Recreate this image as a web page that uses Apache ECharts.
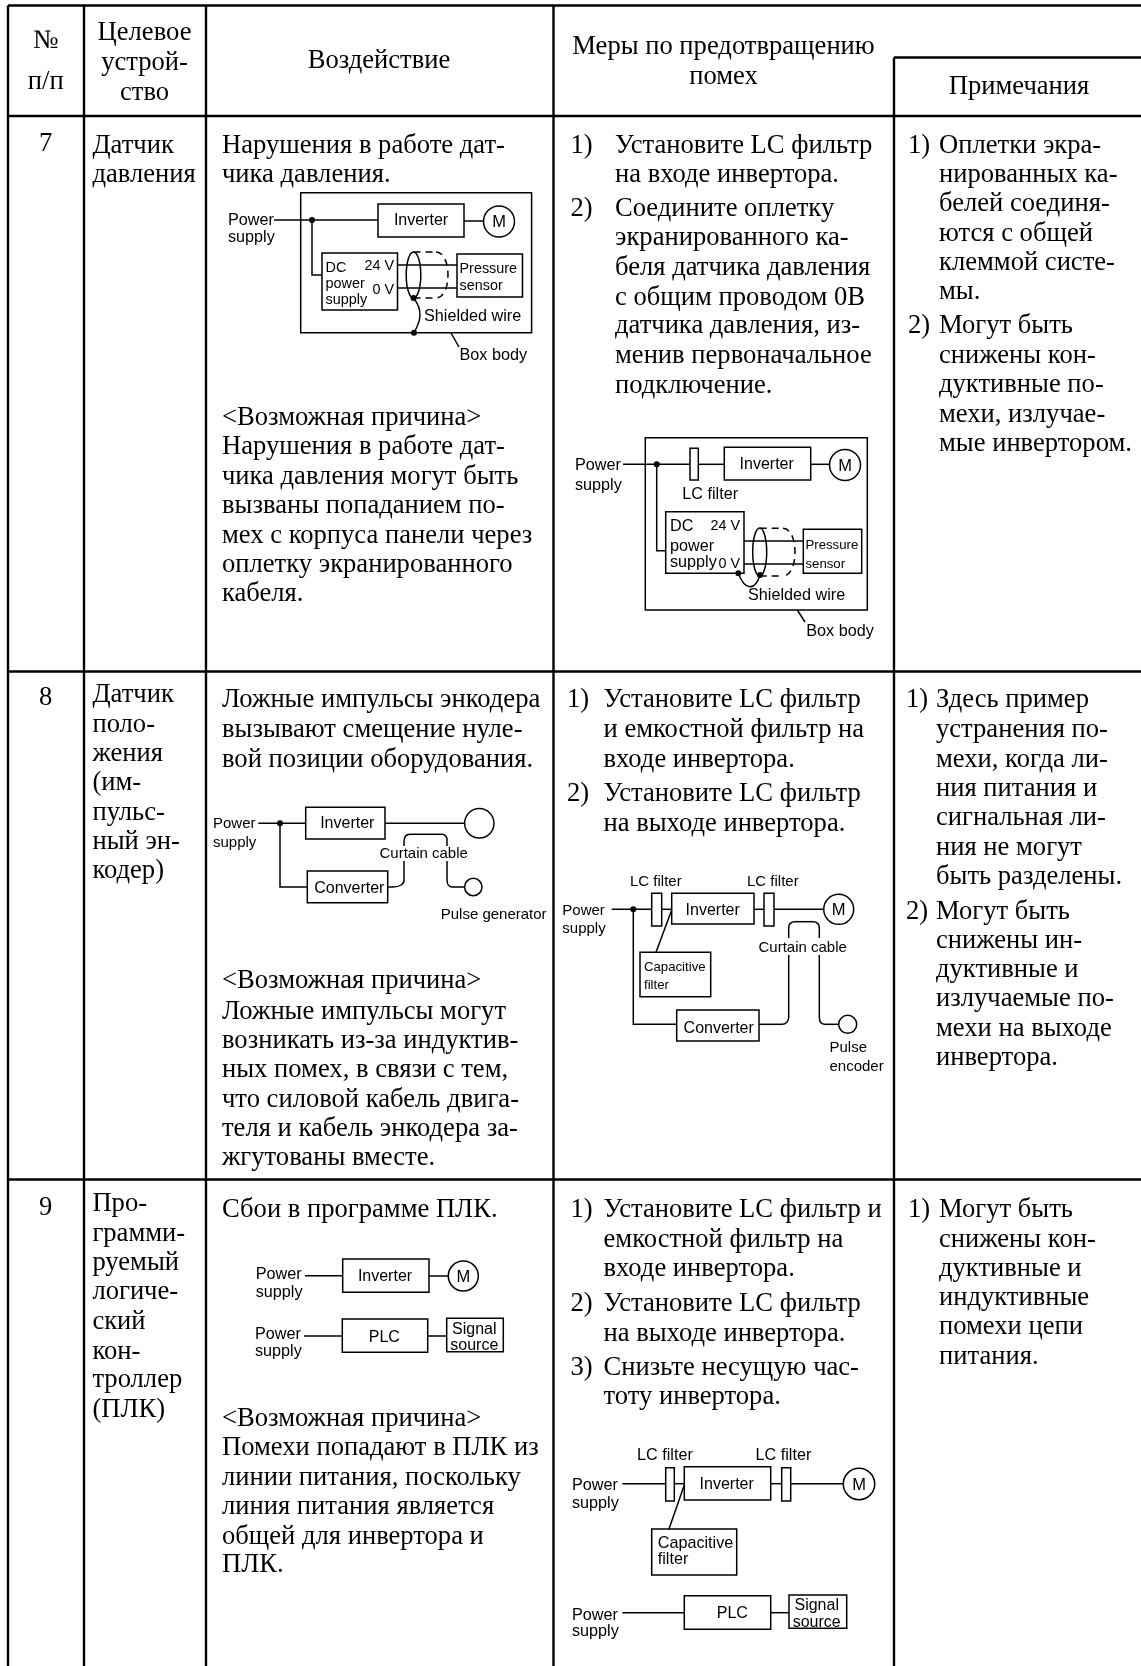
<!DOCTYPE html>
<html>
<head>
<meta charset="utf-8">
<style>html,body{margin:0;padding:0;background:#fff}#main{width:1141px;height:1666px}</style>
<script src="https://cdn.jsdelivr.net/npm/echarts@6/dist/echarts.min.js"></script>
</head>
<body>
<div id="main"></div>
<script>
// table rules, as x1,y1,x2,y2
const tableRules = [
  [8, 5.5, 1141, 5.5], [894, 57.5, 1141, 57.5], [8, 116, 1141, 116], [8, 671.5, 1141, 671.5], [8, 1179.5, 1141, 1179.5],
  [8, 5.5, 8, 1666], [84, 5.5, 84, 1666], [206, 5.5, 206, 1666], [553.5, 5.5, 553.5, 1666], [894, 57.5, 894, 1666]
];

// table text: x, y (line middle), text
const headerText = [
  [45.7, 40, '№'], [45.7, 81, 'п/п'],
  [144.5, 32, 'Целевое'], [144.5, 61.6, 'устрой-'], [144.5, 91.4, 'ство'],
  [379, 59.5, 'Воздействие'],
  [723.5, 45.7, 'Меры по предотвращению'], [723.5, 75.4, 'помех'],
  [1019, 86, 'Примечания'],
  [45.7, 142.4, '7'], [45.7, 697, '8'], [45.7, 1207, '9']
];
const deviceText = [
  [92.4, 144.5, 'Датчик'], [92.4, 174, 'давления'],
  [92.4, 693.7, 'Датчик'], [92.4, 723.5, 'поло-'], [92.4, 752.2, 'жения'], [92.4, 782, '(им-'],
  [92.4, 811.7, 'пульс-'], [92.4, 840.4, 'ный эн-'], [92.4, 870, 'кодер)'],
  [92.4, 1202.6, 'Про-'], [92.4, 1232.4, 'грамми-'], [92.4, 1262, 'руемый'], [92.4, 1290.8, 'логиче-'],
  [92.4, 1320.6, 'ский'], [92.4, 1350.3, 'кон-'], [92.4, 1379, 'троллер'], [92.4, 1408.8, '(ПЛК)']
];
const effectText = [
  [222, 144.5, 'Нарушения в работе дат-'], [222, 174, 'чика давления.'],
  [222, 416.5, '<Возможная причина>'], [222, 446, 'Нарушения в работе дат-'], [222, 476, 'чика давления могут быть'],
  [222, 504.6, 'вызваны попаданием по-'], [222, 534.4, 'мех с корпуса панели через'],
  [222, 564, 'оплетку экранированного'], [222, 592.8, 'кабеля.'],
  [222, 699, 'Ложные импульсы энкодера'], [222, 728.8, 'вызывают смещение нуле-'], [222, 758.5, 'вой позиции оборудования.'],
  [222, 979.5, '<Возможная причина>'], [222, 1010.3, 'Ложные импульсы могут'], [222, 1040, 'возникать из-за индуктив-'],
  [222, 1068.8, 'ных помех, в связи с тем,'], [222, 1098.5, 'что силовой кабель двига-'],
  [222, 1127.2, 'теля и кабель энкодера за-'], [222, 1157, 'жгутованы вместе.'],
  [222, 1209, 'Сбои в программе ПЛК.'],
  [222, 1417.2, '<Возможная причина>'], [222, 1447, 'Помехи попадают в ПЛК из'], [222, 1476.7, 'линии питания, поскольку'],
  [222, 1505.4, 'линия питания является'], [222, 1535.2, 'общей для инвертора и'], [222, 1563.8, 'ПЛК.']
];
const measureText = [
  [570.5, 144.5, '1)'], [615, 144.5, 'Установите LC фильтр'], [615, 174, 'на входе инвертора.'],
  [570.5, 208, '2)'], [615, 208, 'Соедините оплетку'], [615, 237, 'экранированного ка-'], [615, 266.7, 'беля датчика давления'],
  [615, 296.4, 'с общим проводом 0В'], [615, 325, 'датчика давления, из-'], [615, 354.8, 'менив первоначальное'], [615, 384.6, 'подключение.'],
  [567, 699, '1)'], [603.5, 699, 'Установите LC фильтр'], [603.5, 728.8, 'и емкостной фильтр на'], [603.5, 758.5, 'входе инвертора.'],
  [567, 792.5, '2)'], [603.5, 792.5, 'Установите LC фильтр'], [603.5, 822.3, 'на выходе инвертора.'],
  [570.5, 1209, '1)'], [603.5, 1209, 'Установите LC фильтр и'], [603.5, 1238.8, 'емкостной фильтр на'], [603.5, 1267.4, 'входе инвертора.'],
  [570.5, 1302.5, '2)'], [603.5, 1302.5, 'Установите LC фильтр'], [603.5, 1332.2, 'на выходе инвертора.'],
  [570.5, 1366.3, '3)'], [603.5, 1366.3, 'Снизьте несущую час-'], [603.5, 1396, 'тоту инвертора.']
];
const noteText = [
  [908, 144.5, '1)'], [939, 144.5, 'Оплетки экра-'], [939, 174, 'нированных ка-'], [939, 203, 'белей соединя-'],
  [939, 232.7, 'ются с общей'], [939, 261.4, 'клеммой систе-'], [939, 291, 'мы.'],
  [908, 325, '2)'], [939, 325, 'Могут быть'], [939, 354.8, 'снижены кон-'], [939, 383.5, 'дуктивные по-'],
  [939, 413.3, 'мехи, излучае-'], [939, 443, 'мые инвертором.'],
  [906, 699, '1)'], [936, 699, 'Здесь пример'], [936, 728.8, 'устранения по-'], [936, 758.5, 'мехи, когда ли-'],
  [936, 787.2, 'ния питания и'], [936, 817, 'сигнальная ли-'], [936, 846.7, 'ния не могут'], [936, 875.4, 'быть разделены.'],
  [906, 910.5, '2)'], [936, 910.5, 'Могут быть'], [936, 939.2, 'снижены ин-'], [936, 969, 'дуктивные и'],
  [936, 997.6, 'излучаемые по-'], [936, 1027.3, 'мехи на выходе'], [936, 1057, 'инвертора.'],
  [908, 1209, '1)'], [939, 1209, 'Могут быть'], [939, 1238.8, 'снижены кон-'], [939, 1267.4, 'дуктивные и'],
  [939, 1297, 'индуктивные'], [939, 1326, 'помехи цепи'], [939, 1355.5, 'питания.']
];

// schematic labels
const labels16 = [
  [228, 220, 'Power'], [228, 237, 'supply'], [424, 315.7, 'Shielded wire'], [459.5, 355, 'Box body'],
  [575, 465, 'Power'], [575, 485, 'supply'], [682.3, 494, 'LC filter'], [670, 526, 'DC'], [670, 545.3, 'power'],
  [670, 561.7, 'supply'], [748, 595, 'Shielded wire'], [806.3, 630.7, 'Box body'],
  [255.7, 1274, 'Power'], [255.7, 1291.7, 'supply'], [255, 1334, 'Power'], [255, 1351, 'supply'],
  [637, 1455, 'LC filter'], [755.5, 1455, 'LC filter'], [572, 1484.3, 'Power'], [572, 1502.3, 'supply'],
  [657.7, 1542.7, 'Capacitive'], [657.7, 1558.3, 'filter'], [572, 1614.3, 'Power'], [572, 1631, 'supply']
];
const labels15 = [
  [213, 823.3, 'Power'], [213, 842.3, 'supply'], [379.5, 853.3, 'Curtain cable'], [440.7, 914, 'Pulse generator'],
  [630, 881, 'LC filter'], [747, 881, 'LC filter'], [562.3, 910, 'Power'], [562.3, 928.3, 'supply'],
  [758.5, 946.7, 'Curtain cable'], [829.5, 1046.7, 'Pulse'], [829.5, 1065.7, 'encoder']
];
const labels14 = [
  [325.5, 267, 'DC'], [325.5, 283, 'power'], [325.5, 299, 'supply'], [459.5, 268, 'Pressure'], [459.5, 285, 'sensor']
];
const labels13 = [
  [805.5, 544, 'Pressure'], [805.5, 563.3, 'sensor'], [644, 966, 'Capacitive'], [644, 984, 'filter']
];
const voltLabels = [[394, 265, '24 V'], [394, 289, '0 V'], [740, 525.3, '24 V'], [740, 563, '0 V']];
const boxLabels = [
  [421, 220, 'Inverter'], [766.7, 464, 'Inverter'], [347.3, 823, 'Inverter'], [349.3, 888, 'Converter'],
  [712.7, 910, 'Inverter'], [718.7, 1027.7, 'Converter'], [385, 1276, 'Inverter'], [384.3, 1337, 'PLC'],
  [474.3, 1328.3, 'Signal'], [474.3, 1344.7, 'source'], [726.7, 1484, 'Inverter'], [732.3, 1613, 'PLC'],
  [816.7, 1605, 'Signal'], [816.7, 1621.3, 'source']
];
const motorLabels = [[499, 221.5, 'M'], [845, 465, 'M'], [838.7, 909.3, 'M'], [463.3, 1276, 'M'], [859, 1484, 'M']];

// schematic shapes: boxes x1,y1,x2,y2
const boxes = [
  [300.7, 192.7, 531.6, 332.7], [378, 204, 464, 237], [322, 253, 397.5, 310], [457, 254, 522.5, 297],
  [645.3, 437.7, 867.3, 610], [690, 448.3, 698.3, 480], [724.3, 447.3, 810.7, 480], [665.7, 511.7, 744, 573.3], [803.3, 529.3, 861.7, 573.3],
  [305.7, 807.3, 385, 839], [307.3, 871, 387.7, 902.7],
  [651.7, 893.3, 661.7, 926], [671.7, 893.3, 754, 924], [764, 893.3, 774, 926], [640, 952.3, 710.7, 996.7], [676.7, 1010, 759, 1041],
  [342.7, 1259, 429, 1292.3], [342.3, 1319, 427.7, 1352.3], [446.7, 1318.3, 503.3, 1351.7],
  [665.7, 1467.7, 674.3, 1501], [684.3, 1466.7, 770.7, 1500], [781.7, 1467.7, 790.7, 1501], [651.7, 1529, 736.7, 1575],
  [684.3, 1595.7, 770.7, 1629.3], [789, 1595, 846.7, 1628.3]
];
// wires: polylines of x,y pairs
const wires = [
  [[274, 220], [378, 220]], [[464, 221], [483, 221]], [[312, 220], [312, 275], [322, 275]],
  [[397.5, 265], [457, 265]], [[397.5, 288], [457, 288]], [[451, 333], [459, 347]],
  [[623, 464.3], [690, 464.3]], [[698.3, 464.3], [724.3, 464.3]], [[810.7, 464.3], [830, 464.3]],
  [[656.7, 464.3], [656.7, 550.7], [665.7, 550.7]], [[744, 541], [803.3, 541]], [[744, 564], [803.3, 564]], [[797.3, 610], [805, 622]],
  [[258.3, 823.3], [305.7, 823.3]], [[385, 823.3], [465, 823.3]], [[280, 823.3], [280, 887], [307.3, 887]],
  [[387.7, 887], [393, 887]], [[404, 880], [404, 861]], [[404, 846], [404, 842]], [[410, 834.3], [442, 834.3]], [[447, 840], [447, 846]],
  [[447, 861], [447, 880]], [[452, 887], [464.6, 887]],
  [[611.7, 909.3], [651.7, 909.3]], [[661.7, 909.3], [671.7, 909.3]], [[754, 909.3], [764, 909.3]], [[774, 909.3], [824, 909.3]],
  [[671.7, 910], [656, 952.3]], [[633.3, 909.3], [633.3, 1024.3], [676.7, 1024.3]],
  [[759, 1024.3], [782, 1024.3]], [[788.7, 1017], [788.7, 955]], [[788.7, 938], [788.7, 928]], [[795, 921.7], [813, 921.7]],
  [[819.3, 928], [819.3, 938]], [[819.3, 955], [819.3, 1017]], [[825, 1024.3], [838.7, 1024.3]],
  [[305, 1275.7], [342.7, 1275.7]], [[429, 1276], [448.3, 1276]], [[304, 1336], [342.3, 1336]], [[427.7, 1336], [446.7, 1336]],
  [[622.3, 1483.7], [665.7, 1483.7]], [[674.3, 1483.7], [684.3, 1483.7]], [[770.7, 1483.7], [781.7, 1483.7]], [[790.7, 1483.7], [843.3, 1483.7]],
  [[684.3, 1485], [669, 1529]], [[622.3, 1612.7], [684.3, 1612.7]], [[770.7, 1612.7], [789, 1612.7]]
];
// dashed shield outlines
const shieldLines = [
  [[413.5, 252], [436, 252]], [[413.5, 298], [436, 298]],
  [[759.7, 528.3], [783, 528.3]], [[759.7, 576], [783, 576]]
];
// bends: x1,y1,x2,y2,cp1x,cp1y,cp2x,cp2y
const bends = [
  [413.5, 298, 414, 332.7, 424, 311, 420, 322],
  [738.3, 573.3, 760, 575, 745, 591, 755, 591],
  [393, 887, 404, 880, 400, 887, 404, 884], [404, 842, 410, 834.3, 404, 837, 406, 834.3], [442, 834.3, 447, 840, 445, 834.3, 447, 837], [447, 880, 452, 887, 447, 884, 449, 887],
  [782, 1024.3, 788.7, 1017, 786, 1024.3, 788.7, 1021], [788.7, 928, 795, 921.7, 788.7, 924, 791, 921.7], [813, 921.7, 819.3, 928, 817, 921.7, 819.3, 924], [819.3, 1017, 825, 1024.3, 819.3, 1021, 821, 1024.3]
];
const dashedBends = [
  [436, 252, 436, 298, 452, 252, 452, 298],
  [783, 528.3, 783, 576, 799, 528.3, 799, 576]
];
// ellipses cx,cy,rx,ry
const shields = [[413.5, 275, 7.3, 23], [759.7, 552, 7, 24]];
// circles cx,cy,r
const motors = [
  [499, 221.5, 15.5], [845, 465, 15.5], [479.3, 823.3, 14.7], [473.3, 887, 8.7],
  [838.7, 909.3, 15], [847.7, 1024.3, 9], [463.3, 1276, 15], [859, 1484, 15.7]
];
const junctions = [
  [312, 220], [413.5, 298], [414, 332.7], [656.7, 464.3], [738.3, 573.3], [760, 575], [280, 823.3], [633.3, 909.3]
];

const SERIF = '"Liberation Serif", serif';
const SANS = '"Liberation Sans", Arial, sans-serif';
const INK = '#000';

// one custom series per kind of mark, everything goes through the hidden axes
function shapeSeries(rows, draw) {
  return {
    type: 'custom',
    coordinateSystem: 'cartesian2d',
    silent: true,
    clip: false,
    animation: false,
    data: rows.map((_, i) => [i, i]),
    encode: { x: 0, y: 1 },
    renderItem: (params, api) => draw(rows[params.dataIndex], (x, y) => api.coord([x, y]))
  };
}

function textSeries(rows, family, size, align, nudge) {
  return shapeSeries(rows, (r, at) => {
    const p = at(r[0], r[1] + nudge);
    return {
      type: 'text',
      style: { text: r[2], x: p[0], y: p[1], font: `${size}px ${family}`, fill: INK, textAlign: align, textVerticalAlign: 'middle' }
    };
  });
}

const strokeStyle = (w, dash) => ({ stroke: INK, lineWidth: w, fill: 'none', lineDash: dash || null });

function bendSeries(rows, w, dash) {
  return shapeSeries(rows, (b, at) => {
    const a = at(b[0], b[1]), c = at(b[2], b[3]), d = at(b[4], b[5]), e = at(b[6], b[7]);
    return {
      type: 'bezierCurve',
      shape: { x1: a[0], y1: a[1], x2: c[0], y2: c[1], cpx1: d[0], cpy1: d[1], cpx2: e[0], cpy2: e[1] },
      style: strokeStyle(w, dash)
    };
  });
}

function wireSeries(rows, w, dash) {
  return shapeSeries(rows, (pts, at) => ({
    type: 'polyline',
    shape: { points: pts.map(p => at(p[0], p[1])) },
    style: strokeStyle(w, dash)
  }));
}

const chart = echarts.init(document.getElementById('main'), null, { renderer: 'canvas' });
chart.setOption({
  backgroundColor: '#fff',
  animation: false,
  grid: { left: 0, right: 0, top: 0, bottom: 0 },
  xAxis: { type: 'value', min: 0, max: 1141, show: false },
  yAxis: { type: 'value', min: 0, max: 1666, inverse: true, show: false },
  series: [
    shapeSeries(tableRules, (r, at) => {
      const a = at(r[0], r[1]), b = at(r[2], r[3]);
      return { type: 'line', shape: { x1: a[0], y1: a[1], x2: b[0], y2: b[1] }, style: { stroke: '#000', lineWidth: 2.4 } };
    }),
    shapeSeries(boxes, (r, at) => {
      const a = at(r[0], r[1]), b = at(r[2], r[3]);
      return { type: 'rect', shape: { x: a[0], y: a[1], width: b[0] - a[0], height: b[1] - a[1] }, style: strokeStyle(1.5) };
    }),
    wireSeries(wires, 1.5),
    wireSeries(shieldLines, 1.5, [7, 5]),
    bendSeries(bends, 1.5),
    bendSeries(dashedBends, 1.5, [7, 5]),
    shapeSeries(shields, (e, at) => {
      const c = at(e[0], e[1]);
      return { type: 'ellipse', shape: { cx: c[0], cy: c[1], rx: e[2], ry: e[3] }, style: strokeStyle(1.5) };
    }),
    shapeSeries(motors, (m, at) => {
      const c = at(m[0], m[1]);
      return { type: 'circle', shape: { cx: c[0], cy: c[1], r: m[2] }, style: { stroke: INK, lineWidth: 1.5, fill: '#fff' } };
    }),
    shapeSeries(junctions, (j, at) => {
      const c = at(j[0], j[1]);
      return { type: 'circle', shape: { cx: c[0], cy: c[1], r: 3 }, style: { fill: '#000' } };
    }),
    textSeries(headerText, SERIF, 26.6, 'center', 1.5),
    textSeries(deviceText, SERIF, 26.6, 'left', 1.5),
    textSeries(effectText, SERIF, 26.6, 'left', 1.5),
    textSeries(measureText, SERIF, 26.6, 'left', 1.5),
    textSeries(noteText, SERIF, 26.6, 'left', 1.5),
    textSeries(labels16, SANS, 16.2, 'left', 1),
    textSeries(labels15, SANS, 15, 'left', 1),
    textSeries(labels14, SANS, 14.4, 'left', 1),
    textSeries(labels13, SANS, 13.2, 'left', 1),
    textSeries(voltLabels, SANS, 14.4, 'right', 1),
    textSeries(boxLabels, SANS, 16, 'center', 1),
    textSeries(motorLabels, SANS, 16.5, 'center', 1)
  ]
});
</script>
</body>
</html>
